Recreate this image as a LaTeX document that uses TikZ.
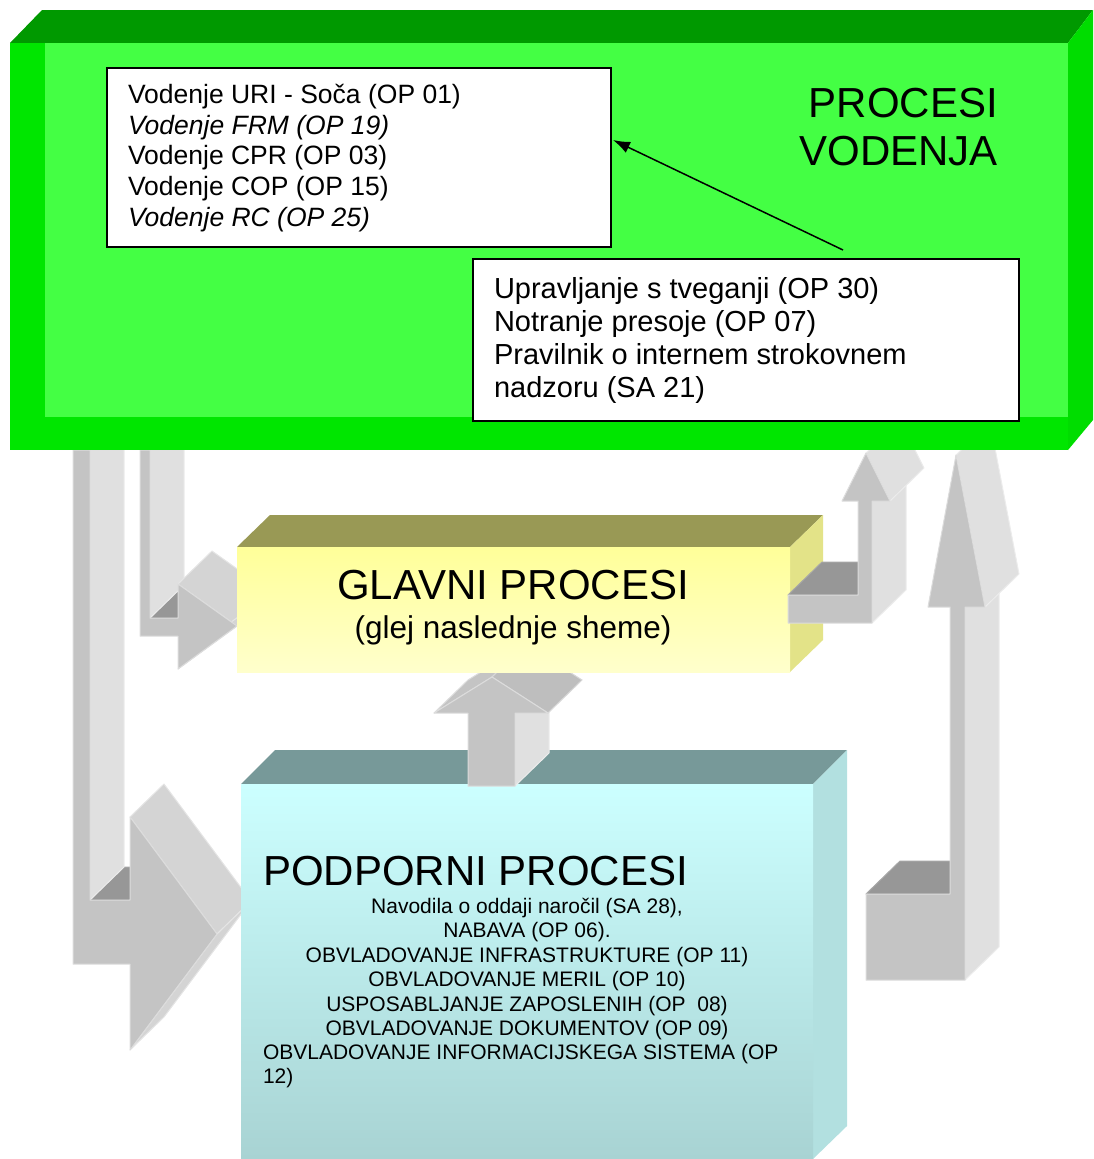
\documentclass[tikz,border=0pt]{standalone}
\usepackage{fontspec}
\setmainfont{Liberation Sans}
\usetikzlibrary{arrows.meta}
\definecolor{gtop}{HTML}{009900}
\definecolor{gbev}{HTML}{00E600}
\definecolor{ginn}{HTML}{44FF44}
\definecolor{gside}{HTML}{00DD00}
\definecolor{ytop}{HTML}{999955}
\definecolor{yside}{HTML}{E3E388}
\definecolor{yfa}{HTML}{FFFF99}
\definecolor{yfb}{HTML}{FFFFCC}
\definecolor{ctop}{HTML}{779999}
\definecolor{cside}{HTML}{B2E0E0}
\definecolor{cfa}{HTML}{CCFFFF}
\definecolor{cfb}{HTML}{A8D3D3}
\definecolor{afront}{HTML}{C4C4C4}
\definecolor{aside}{HTML}{E0E0E0}
\definecolor{adark}{HTML}{979797}
\definecolor{ahead}{HTML}{D4D4D4}
\definecolor{ahead2}{HTML}{BEBEBE}
\begin{document}
\begin{tikzpicture}[x=1pt,y=-1pt,
  afr/.style={fill=afront,draw=afront!60!white,line width=1pt,line join=round},
  asd/.style={fill=aside,draw=aside!60!white,line width=1pt,line join=round},
  adk/.style={fill=adark,draw=adark!85!white,line width=1pt,line join=round},
  ahd/.style={fill=ahead,draw=ahead!60!white,line width=1pt,line join=round},
  wbox/.style={draw=black,line width=2pt,fill=white,anchor=north west,inner sep=0,outer sep=0},
  txt/.style={inner sep=0,outer sep=0},
  link/.style={line width=1.5pt,-{Latex[length=17pt,width=12pt]}}]
\useasboundingbox (0,0) rectangle (1093,1159);
% ---- left big arrow (to support processes)
\path[adk] (90,900) -- (124,867) -- (164,867) -- (130,900) -- cycle;
\path[asd] (90,450) -- (124,417) -- (124,867) -- (90,900) -- cycle;
\path[ahd] (130,817) -- (164,784) -- (251,901) -- (217,934) -- cycle;
\path[ahd] (217,934) -- (251,901) -- (164,1017) -- (130,1050) -- cycle;
\path[afr] (73,450) -- (90,450) -- (90,900) -- (130,900) -- (130,817) -- (217,934) -- (130,1050) -- (130,964) -- (73,964) -- cycle;
% ---- left small arrow (to main processes)
\path[adk] (150,618) -- (184,585) -- (212,585) -- (178,618) -- cycle;
\path[asd] (150,450) -- (184,417) -- (184,585) -- (150,618) -- cycle;
\path[ahd] (178,584) -- (212,551) -- (271,593) -- (237,626) -- cycle;
\path[ahd] (237,626) -- (271,593) -- (212,636) -- (178,669) -- cycle;
\path[afr] (140,450) -- (150,450) -- (150,618) -- (178,618) -- (178,584) -- (237,626) -- (178,669) -- (178,636) -- (140,636) -- cycle;
% ---- right big arrow (from bottom up)
\path[adk] (866,894) -- (900,861) -- (984,861) -- (950,894) -- cycle;
\path[asd] (965,607) -- (999,574) -- (999,947) -- (965,980) -- cycle;
\path[asd] (985,607) -- (956,455) -- (990,422) -- (1019,574) -- cycle;
\path[afr] (866,894) -- (950,894) -- (950,607) -- (928,607) -- (956,455) -- (985,607) -- (965,607) -- (965,980) -- (866,980) -- cycle;
% ---- support processes box (cyan)
\fill[ctop] (241,784) -- (275,750) -- (847,750) -- (813,784) -- cycle;
\fill[cside] (813,784) -- (847,750) -- (847,1126) -- (813,1159) -- cycle;
\shade[top color=cfa,bottom color=cfb] (241,784) rectangle (813,1159);
% ---- middle arrow (support -> main)
\path[asd] (515,786) -- (549,753) -- (549,680) -- (515,713) -- cycle;
\path[afr] (434,713) -- (468,680) -- (526,644) -- (492,677) -- cycle;
\path[fill=ahead2,draw=ahead2!60!white,line width=1pt] (492,677) -- (526,644) -- (582,680) -- (548,713) -- cycle;
\path[afr] (468,786) -- (515,786) -- (515,713) -- (548,713) -- (492,677) -- (434,713) -- (468,713) -- cycle;
% ---- main processes box (yellow)
\fill[ytop] (237,547) -- (270,515) -- (823,515) -- (790,547) -- cycle;
\fill[yside] (790,547) -- (823,515) -- (823,640) -- (790,672) -- cycle;
\shade[top color=yfa,bottom color=yfb] (237,547) rectangle (790,672);
% ---- right small arrow (main -> management)
\path[adk] (788,595) -- (822,562) -- (892,562) -- (858,595) -- cycle;
\path[asd] (872,501) -- (906,468) -- (906,590) -- (872,623) -- cycle;
\path[asd] (890,501) -- (866,453) -- (900,420) -- (924,468) -- cycle;
\path[afr] (788,595) -- (858,595) -- (858,501) -- (842,501) -- (866,453) -- (890,501) -- (872,501) -- (872,623) -- (788,623) -- cycle;
% ---- management box (green)
\fill[gtop] (10,43) -- (42,10) -- (1093,10) -- (1068,43) -- cycle;
\fill[gside] (1068,43) -- (1093,10) -- (1093,420) -- (1068,450) -- cycle;
\fill[gbev] (10,43) rectangle (1068,450);
\fill[ginn] (45,43) rectangle (1068,417);
% ---- white boxes
\node[wbox,minimum width=504pt,minimum height=179pt] (box1) at (107,68) {};
\node[wbox,minimum width=546pt,minimum height=162pt] (box2) at (473,259) {};
\node[txt,anchor=north west,align=left,font=\fontsize{26.5}{30.75}\selectfont] (t1) at (128,84)
  {Vodenje URI - Soča (OP 01)\\\textit{Vodenje FRM (OP 19)}\\Vodenje CPR (OP 03)\\Vodenje COP (OP 15)\\\textit{Vodenje RC (OP 25)}};
\node[txt,anchor=north west,align=left,font=\fontsize{29}{33.3}\selectfont] (t2) at (494,277)
  {Upravljanje s tveganji (OP 30)\\Notranje presoje (OP 07)\\Pravilnik o internem strokovnem\\nadzoru (SA 21)};
\node[txt,anchor=north east,align=right,font=\fontsize{42}{48}\selectfont] (pv) at (998,88) {PROCESI\\VODENJA};
\coordinate (as) at (843,250);
\coordinate (ae) at (613,140);
\draw[link] (as) -- (ae);
% ---- texts of lower boxes
\node[txt,anchor=base,font=\fontsize{42}{48}\selectfont] (gl) at (513,599) {GLAVNI PROCESI};
\node[txt,anchor=base,font=\fontsize{31.5}{36}\selectfont] (gs) at (513,638) {(glej naslednje sheme)};
\node[txt,anchor=base west,font=\fontsize{42}{48}\selectfont] (pp) at (263,885) {PODPORNI PROCESI};
\node[txt,anchor=north,align=center,font=\fontsize{21}{24.5}\selectfont] (pl) at (527,898)
  {Navodila o oddaji naročil (SA 28),\\NABAVA (OP 06).\\OBVLADOVANJE INFRASTRUKTURE (OP 11)\\OBVLADOVANJE MERIL (OP 10)\\USPOSABLJANJE ZAPOSLENIH (OP\ \ 08)\\OBVLADOVANJE DOKUMENTOV (OP 09)};
\node[txt,anchor=north west,align=left,font=\fontsize{21}{24.5}\selectfont] (pl2) at (263,1044)
  {OBVLADOVANJE INFORMACIJSKEGA SISTEMA (OP\\12)};
\end{tikzpicture}
\end{document}
